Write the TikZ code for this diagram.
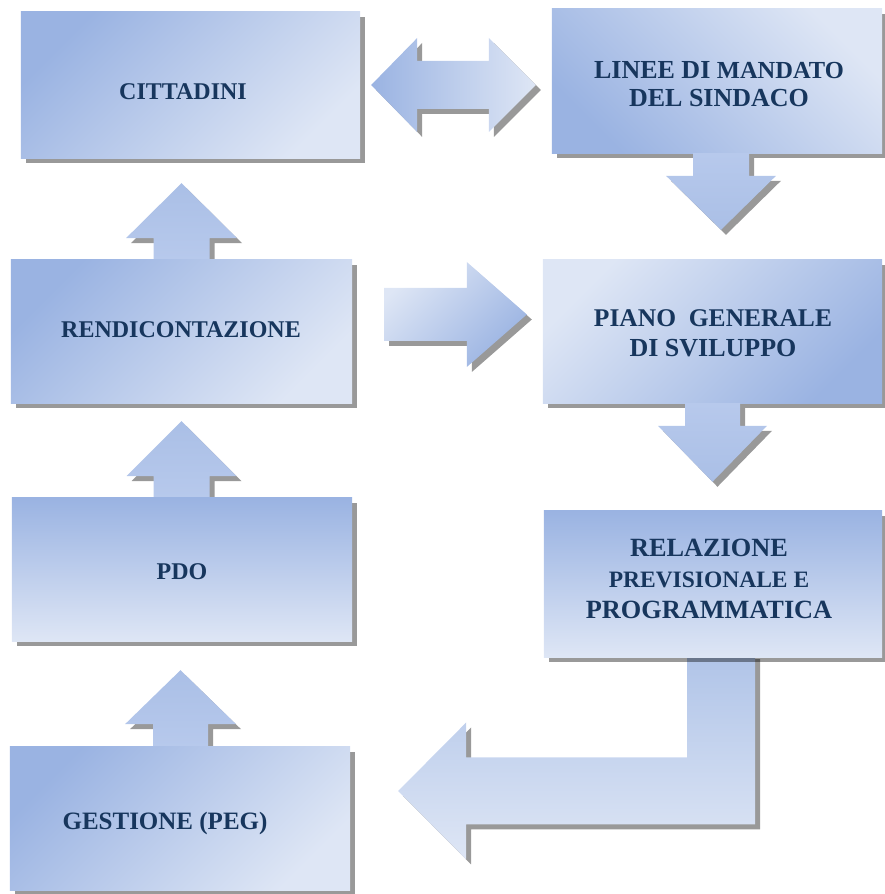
\documentclass[tikz,border=0pt]{standalone}
\usepackage{fontspec}
\setmainfont{Liberation Serif}
\usetikzlibrary{calc}
\definecolor{dk}{RGB}{154,179,226}
\definecolor{lt}{RGB}{222,230,245}
\definecolor{md}{RGB}{176,196,232}
\definecolor{shg}{RGB}{153,153,153}
\definecolor{txt}{RGB}{23,54,93}
\definecolor{upa}{RGB}{170,191,230}
\definecolor{upb}{RGB}{183,201,236}
\tikzset{
  boxnode/.style={rectangle, inner sep=0pt, draw=none},
  lbl/.style={font=\bfseries\fontsize{24}{29}\selectfont, text=txt, align=center, inner sep=0pt},
  shad/.style={fill=shg, transform canvas={shift={(5pt,-5pt)}}},
  upshade/.style={top color=upa, bottom color=upb},
  downshade/.style={top color=upb, bottom color=upa},
}
% vertical up block arrow: opts, base, tip, head length, shaft half, head half
\newcommand\upblk[6]{\path[#1] let \p1=#2, \p2=#3 in
  (\x2-#5,\y1) -- (\x2-#5,\y2-#4) -- (\x2-#6,\y2-#4) -- (\x2,\y2) --
  (\x2+#6,\y2-#4) -- (\x2+#5,\y2-#4) -- (\x2+#5,\y1) -- cycle;}
\newcommand\downblk[6]{\path[#1] let \p1=#2, \p2=#3 in
  (\x2-#5,\y1) -- (\x2-#5,\y2+#4) -- (\x2-#6,\y2+#4) -- (\x2,\y2) --
  (\x2+#6,\y2+#4) -- (\x2+#5,\y2+#4) -- (\x2+#5,\y1) -- cycle;}
\newcommand\rightblk[6]{\path[#1] let \p1=#2, \p2=#3 in
  (\x1,\y2+#5) -- (\x2-#4,\y2+#5) -- (\x2-#4,\y2+#6) -- (\x2,\y2) --
  (\x2-#4,\y2-#6) -- (\x2-#4,\y2-#5) -- (\x1,\y2-#5) -- cycle;}
\newcommand\dblblk[1]{\path[#1] let \p1=($(citt.east)+(11,0)$), \p2=($(linee.west)+(-16,-4)$) in
  (\x1,\y1) -- (\x1+46pt,\y1+47pt) -- (\x1+46pt,\y1+24pt) -- (\x2-47pt,\y1+24pt) --
  (\x2-47pt,\y1+47pt) -- (\x2,\y1) -- (\x2-47pt,\y1-47pt) -- (\x2-47pt,\y1-24pt) --
  (\x1+46pt,\y1-24pt) -- (\x1+46pt,\y1-47pt) -- cycle;}
\newcommand\bentblk[1]{\path[#1] let \p1=($(rel.south)+(8,3)$), \p2=($(gest.east)+(48,27.5)$) in
  (\x1-34pt,\y1) -- (\x1+34pt,\y1) -- (\x1+34pt,\y2-33.5pt) -- (\x2+68pt,\y2-33.5pt) --
  (\x2+68pt,\y2-68.5pt) -- (\x2,\y2) -- (\x2+68pt,\y2+68.5pt) -- (\x2+68pt,\y2+33.5pt) --
  (\x1-34pt,\y2+33.5pt) -- cycle;}
\newcommand\boxdraw[2]{\fill[shg] ($(#1.south west)+(5,-5)$) rectangle ($(#1.north east)+(5,-5)$);
  \shade[#2] (#1.south west) rectangle (#1.north east);}
\begin{document}
\begin{tikzpicture}[x=1pt,y=1pt]
\useasboundingbox (0,0) rectangle (884,894);
% box placement
\path (190.5,809) node[boxnode,minimum width=339pt,minimum height=146pt] (citt) {};
\path (717,813) node[boxnode,minimum width=330pt,minimum height=144pt] (linee) {};
\path (181.5,562.5) node[boxnode,minimum width=341pt,minimum height=143pt] (rend) {};
\path (712.5,562.5) node[boxnode,minimum width=339pt,minimum height=143pt] (piano) {};
\path (182,324.5) node[boxnode,minimum width=340pt,minimum height=143pt] (pdo) {};
\path (713,310) node[boxnode,minimum width=338pt,minimum height=146pt] (rel) {};
\path (180,75.5) node[boxnode,minimum width=340pt,minimum height=143pt] (gest) {};
% horizontal arrows
\dblblk{shad}
\dblblk{left color=dk, right color=lt}
\rightblk{shad}{($(rend.east)+(32,17)$)}{($(piano.west)+(-16,17)$)}{60pt}{26.5pt}{52.5pt}
\rightblk{top color=lt, bottom color=dk, shading angle=45}{($(rend.east)+(32,17)$)}{($(piano.west)+(-16,17)$)}{60pt}{26.5pt}{52.5pt}
% up arrows
\upblk{shad}{(rend.north)}{($(citt.south)+(-9,-25)$)}{55pt}{28pt}{55.5pt}
\upblk{upshade}{(rend.north)}{($(citt.south)+(-9,-25)$)}{55pt}{28pt}{55.5pt}
\upblk{shad}{(pdo.north)}{($(rend.south)+(0,-18)$)}{55pt}{28pt}{55pt}
\upblk{upshade}{(pdo.north)}{($(rend.south)+(0,-18)$)}{55pt}{28pt}{55pt}
\upblk{shad}{(gest.north)}{($(pdo.south)+(-1.5,-29)$)}{54pt}{27.5pt}{55.5pt}
\upblk{upshade}{(gest.north)}{($(pdo.south)+(-1.5,-29)$)}{54pt}{27.5pt}{55.5pt}
% bent arrow
\bentblk{shad}
\bentblk{top color=md, bottom color=lt}
% boxes
\boxdraw{citt}{top color=dk, bottom color=lt, shading angle=45}
\boxdraw{linee}{top color=lt, bottom color=dk, shading angle=-45}
\boxdraw{rend}{top color=dk, bottom color=lt, shading angle=45}
\boxdraw{piano}{top color=lt, bottom color=dk, shading angle=45}
\boxdraw{pdo}{top color=dk, bottom color=lt}
\boxdraw{gest}{top color=dk, bottom color=lt, shading angle=45}
\fill[black, opacity=0.4] ($(rel.south west)+(5,-5)$) rectangle ($(rel.north east)+(5,-5)$);
\shade[top color=dk, bottom color=lt] (rel.south west) rectangle (rel.north east);
% down arrows
\downblk{shad}{(linee.south)}{($(piano.north)+(8.5,30)$)}{54pt}{28pt}{55pt}
\downblk{downshade}{(linee.south)}{($(piano.north)+(8.5,30)$)}{54pt}{28pt}{55pt}
\downblk{shad}{(piano.south)}{($(rel.north)+(-0.5,29)$)}{56pt}{27.5pt}{54.5pt}
\downblk{downshade}{(piano.south)}{($(rel.north)+(-0.5,29)$)}{56pt}{27.5pt}{54.5pt}
% labels
\node[lbl] (citt-t) at ($(citt)+(-7.5,-7)$) {CITTADINI};
\node[lbl, font=\bfseries\fontsize{26}{28}\selectfont] (linee-t) at ($(linee)+(2,-3)$) {LINEE DI {\fontsize{24.5}{28}\selectfont MANDATO}\\DEL SINDACO};
\node[lbl] (rend-t) at ($(rend)+(-0.5,1.5)$) {RENDICONTAZIONE};
\node[lbl, font=\bfseries\fontsize{25.5}{30}\selectfont] (piano-t) at ($(piano)+(0.5,-1.5)$) {PIANO\ \ GENERALE\\{\fontsize{26}{30}\selectfont DI SVILUPPO}};
\node[lbl] (pdo-t) at ($(pdo)+(0,-2.5)$) {PDO};
\node[lbl, font=\bfseries\fontsize{26.3}{31}\selectfont] (rel-t) at ($(rel)+(-4,5)$) {RELAZIONE\\{\fontsize{23.5}{31}\selectfont PREVISIONALE E}\\PROGRAMMATICA};
\node[lbl, font=\bfseries\fontsize{25}{29}\selectfont] (gest-t) at ($(gest)+(-15,-4.5)$) {GESTIONE (PEG)};
\end{tikzpicture}
\end{document}
